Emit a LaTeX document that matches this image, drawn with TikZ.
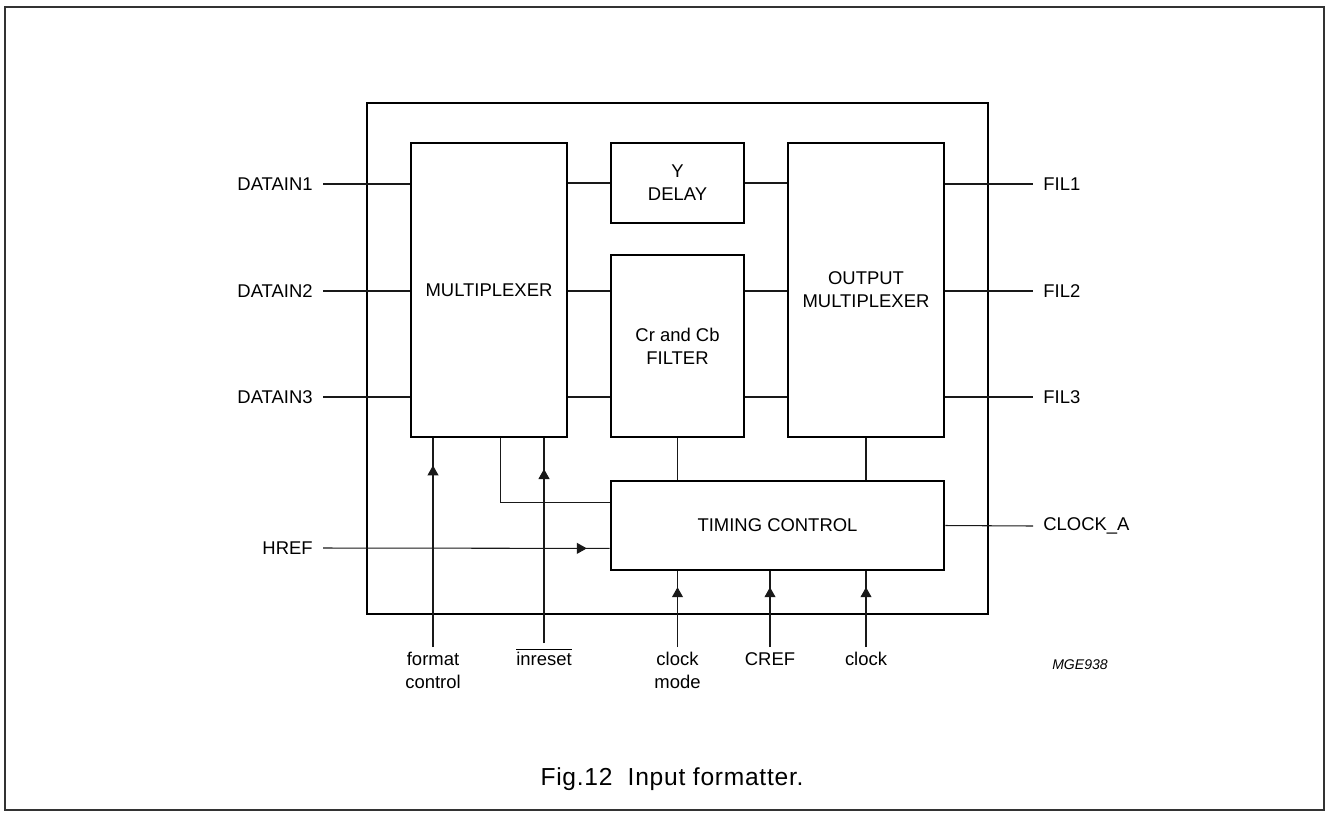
\documentclass[tikz,border=0pt]{standalone}
\usepackage{fontspec}
\setmainfont{Liberation Sans}
\usetikzlibrary{arrows.meta, positioning, calc, decorations.markings}
\newcommand{\pinfont}{\fontsize{10.5}{13}\selectfont}
\tikzset{
  % Page frame and chip outline
  pageframe/.style={draw=black!80, line width=0.8pt},
  chipoutline/.style={draw=black, line width=1.5pt},
  % Function blocks
  block/.style={draw=black, line width=1.5pt, align=center, inner sep=0pt, font=\pinfont},
  % Pin labels
  pinlabel/.style={inner sep=0.2cm, font=\pinfont},
  bottomlabel/.style={inner sep=0.1cm, align=center, anchor=north, font=\pinfont},
  % Wires
  wire/.style={draw=black!90, line width=0.6pt},
  midarrow/.style={wire, postaction={decorate},
    decoration={markings, mark=at position #1 with {\arrow{Triangle[length=0.2cm, width=0.22cm]}}}},
}

\begin{document}
\begin{tikzpicture}[x=0.02cm, y=-0.02cm]

  \useasboundingbox (0,0) rectangle (1327,812);
  \draw[pageframe] (5,7) rectangle (1324,810);
  \draw[chipoutline] (367,103) rectangle (988,614);

  % Define function blocks
  \node[block, minimum width=3.12cm, minimum height=5.88cm] (mux) at (489,290) {MULTIPLEXER};
  \node[block, minimum width=2.66cm, minimum height=1.6cm] (ydelay) at (677.5,183) {Y\\DELAY};
  \node[block, minimum width=2.66cm, minimum height=3.64cm] (filter) at (677.5,346) {Cr and Cb\\FILTER};
  \node[block, minimum width=3.12cm, minimum height=5.88cm] (outmux) at (866,290) {OUTPUT\\MULTIPLEXER};
  \node[block, minimum width=6.66cm, minimum height=1.78cm] (timing) at (777.5,525.5) {TIMING CONTROL};

  % Pin labels, left and right
  \node[pinlabel, anchor=east] (din1) at (323,184) {DATAIN1};
  \node[pinlabel, anchor=east] (din2) at (323,291) {DATAIN2};
  \node[pinlabel, anchor=east] (din3) at (323,397) {DATAIN3};
  \node[pinlabel, anchor=east] (href) at (323,548) {HREF};
  \node[pinlabel, anchor=west] (fil1) at (1033,184) {FIL1};
  \node[pinlabel, anchor=west] (fil2) at (1033,291) {FIL2};
  \node[pinlabel, anchor=west] (fil3) at (1033,397) {FIL3};
  \node[pinlabel, anchor=west] (clka) at (1033,526) {CLOCK\_A};

  % Pin labels, bottom
  \node[bottomlabel] (fmt) at (433,647) {format\\control};
  \node[bottomlabel] (inrst) at (544,643) {$\overline{\hbox{inreset}}$};
  \node[bottomlabel] (clkmode) at (677.5,647) {clock\\mode};
  \node[bottomlabel] (cref) at (770,647) {CREF};
  \node[bottomlabel] (clk) at (866,647) {clock};

  \node[font=\itshape\fontsize{8}{10}\selectfont] (code) at (1080,665) {MGE938};
  \node[font=\fontsize{14}{16}\selectfont\addfontfeature{LetterSpace=3}] (caption) at (672,779) {Fig.12\ \ Input formatter.};

  % Inputs
  \foreach \pin in {din1, din2, din3}
    \draw[wire] (\pin.east) -- (\pin.east -| mux.west);
  \draw[midarrow=0.92] (href.east) -- ($(timing.north west)!0.75!(timing.south west)$);
  \draw[midarrow=0.87] (fmt.north) -- (fmt.north |- mux.south);
  \draw[midarrow=0.85] (inrst.north) -- (inrst.north |- mux.south);
  \foreach \pin in {clkmode, cref, clk}
    \draw[midarrow=0.79] (\pin.north) -- (\pin.north |- timing.south);

  % Internal paths
  \draw[wire] (ydelay.west -| mux.east) -- (ydelay.west);
  \draw[wire] (ydelay.east) -- (ydelay.east -| outmux.west);
  \foreach \pin in {din2, din3} {
    \draw[wire] (\pin.east -| mux.east) -- (\pin.east -| filter.west);
    \draw[wire] (\pin.east -| filter.east) -- (\pin.east -| outmux.west);
  }
  \draw[wire] ($(mux.south west)!0.571!(mux.south east)$) |- ($(timing.north west)!0.25!(timing.south west)$);
  \draw[wire] (filter.south) -- (filter.south |- timing.north);
  \draw[wire] (outmux.south) -- (outmux.south |- timing.north);

  % Outputs
  \foreach \pin in {fil1, fil2, fil3}
    \draw[wire] (\pin.west -| outmux.east) -- (\pin.west);
  \draw[wire] (timing.east) -- (clka.west);

\end{tikzpicture}
\end{document}
